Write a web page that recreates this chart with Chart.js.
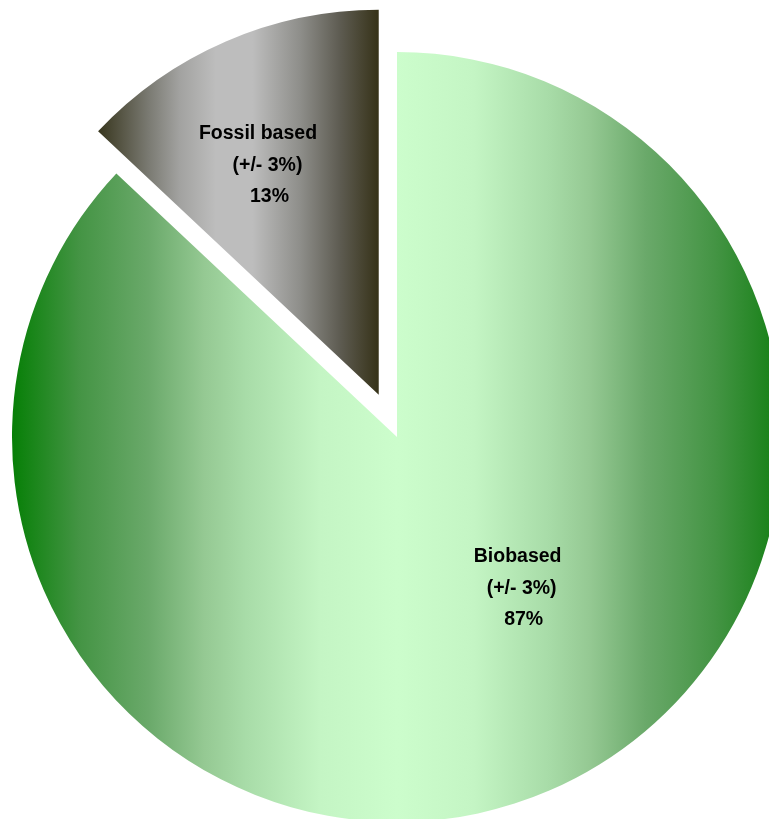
<!DOCTYPE html>
<html>
<head>
<meta charset="utf-8">
<script src="https://cdn.jsdelivr.net/npm/chart.js@4.4.1/dist/chart.umd.min.js"></script>
<style>
  html, body { margin: 0; padding: 0; background: #fff; }
  #wrap { width: 769px; height: 819px; }
</style>
</head>
<body>
<div id="wrap"><canvas id="pie"></canvas></div>
<script>
const categories = ['Biobased', 'Fossil based']
const shares = [87, 13]
const uncertainty = ['(+/- 3%)', '(+/- 3%)']

const RADIUS = 385
const explode = [0, 46]
const pieE = document.getElementById('pie')

// horizontal gradient stops, dark edges and light middle
const sliceStops = [
   [[0, '#067f06'], [0.087, '#449444'], [0.177, '#6aa96a'], [0.25, '#95c993'], [0.304, '#a8dca8'],
    [0.4, '#c4f5c4'], [0.5, '#ccfdcc'], [0.6, '#c4f5c4'], [0.696, '#a8dca8'], [0.75, '#95c993'],
    [0.823, '#6aa96a'], [0.913, '#449444'], [1, '#137f13']],
   [[0, '#38361e'], [0.18, '#7a7a72'], [0.29, '#a2a2a0'], [0.42, '#bdbdbd'], [0.55, '#bdbdbd'],
    [0.72, '#8e8e8a'], [0.86, '#5e5c52'], [1, '#363218']]
]

// label placement: fraction of radius and turn (deg) from slice middle
const labelStyle = {
   radius: [0.499, 0.677],
   turn: [-15.5, -4.2],
   indent: [[0, 4, 6], [0, 9.5, 11.5]],
   lineHeight: 31.5,
   font: 'bold 19.5px "Liberation Sans", Arial, sans-serif'
}

function sliceAngles(i) {
   const total = shares.reduce((a, b) => a + b, 0)
   let start = -Math.PI / 2
   for (let j = 0; j < i; j++) start += 2 * Math.PI * shares[j] / total
   return [start, start + 2 * Math.PI * shares[i] / total]
}

function sliceCenter(chart, i) {
   const area = chart.chartArea
   const [s, e] = sliceAngles(i)
   const mid = (s + e) / 2
   return {
      x: (area.left + area.right) / 2 + Math.cos(mid) * explode[i],
      y: (area.top + area.bottom) / 2 + Math.sin(mid) * explode[i]
   }
}

function sliceFill(context) {
   const chart = context.chart
   if (!chart.chartArea) return '#ccfdcc'
   const i = context.dataIndex
   const c = sliceCenter(chart, i)
   let x0 = c.x - RADIUS
   let x1 = c.x + RADIUS
   if (i === 1) {
      const [s] = sliceAngles(i)
      x0 = c.x + RADIUS * Math.cos(s)
      x1 = c.x
   }
   const g = chart.ctx.createLinearGradient(x0, 0, x1, 0)
   sliceStops[i].forEach(([p, col]) => g.addColorStop(p, col))
   return g
}

const explodePlugin = {
   id: 'explode',
   beforeDatasetsDraw(chart) {
      chart.getDatasetMeta(0).data.forEach((arc, i) => {
         const c = sliceCenter(chart, i)
         arc.x = c.x
         arc.y = c.y
      })
   }
}

const labelPlugin = {
   id: 'sliceLabels',
   afterDatasetsDraw(chart) {
      const ctx = chart.ctx
      ctx.save()
      ctx.font = labelStyle.font
      ctx.fillStyle = '#000'
      ctx.textAlign = 'center'
      ctx.textBaseline = 'alphabetic'
      categories.forEach((name, i) => {
         const c = sliceCenter(chart, i)
         const [s, e] = sliceAngles(i)
         const a = (s + e) / 2 + labelStyle.turn[i] * Math.PI / 180
         const r = labelStyle.radius[i] * RADIUS
         const ax = c.x + Math.cos(a) * r
         const ay = c.y + Math.sin(a) * r
         const lines = [name, uncertainty[i], shares[i] + '%']
         lines.forEach((t, k) => {
            const y = ay + (k - 1) * labelStyle.lineHeight + 7
            ctx.fillText(t, ax + labelStyle.indent[i][k], y)
         })
      })
      ctx.restore()
   }
}

new Chart(pieE, {
   type: 'pie',
   data: {
      labels: categories,
      datasets: [
         {
            data: shares,
            backgroundColor: sliceFill,
            borderWidth: 0,
            radius: RADIUS,
            clip: false
         }
      ]
   },
   options: {
      responsive: true,
      maintainAspectRatio: false,
      animation: false,
      layout: {
         padding: { left: 25, right: 0, top: 55, bottom: 0 }
      },
      plugins: {
         legend: { display: false },
         tooltip: { enabled: false }
      }
   },
   plugins: [explodePlugin, labelPlugin]
})
</script>
</body>
</html>
